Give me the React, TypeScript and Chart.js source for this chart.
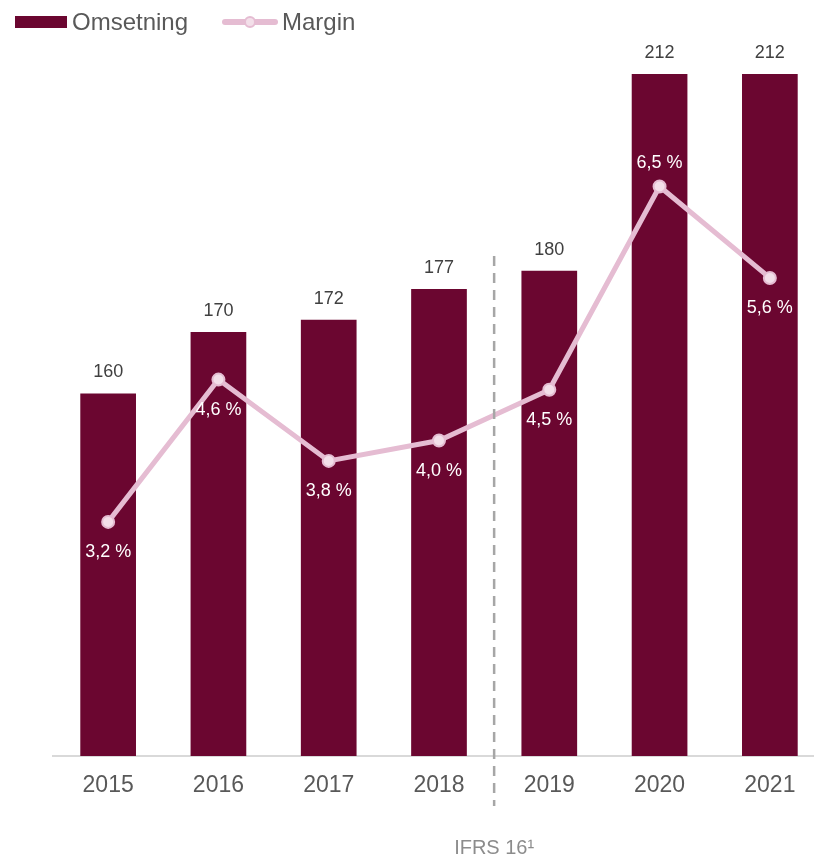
import React, { useEffect, useRef } from 'react';
import { Chart, registerables } from 'chart.js';

Chart.register(...registerables);

const years = ['2015', '2016', '2017', '2018', '2019', '2020', '2021'];
const revenue = [160, 170, 172, 177, 180, 212, 212];
const margin = [3.2, 4.6, 3.8, 4.0, 4.5, 6.5, 5.6];
const marginLabelAbove = [false, false, false, false, false, true, false];
const seriesNames = ['Omsetning', 'Margin'];
const dividerAfterIndex = 3;
const dividerLabel = 'IFRS 16¹';

const BAR_COLOR = '#6B0630';
const LINE_COLOR = '#E5BCD2';
const POINT_FILL = '#F3DFE9';
const FONT = '"Liberation Sans", Arial, sans-serif';
const CANVAS_W = 833;

const fmtPct = (v: number) => v.toFixed(1).replace('.', ',') + ' %';

const labelsPlugin = {
  id: 'valueLabels',
  afterDatasetsDraw(chart: any) {
    const ctx = chart.ctx;
    ctx.save();
    ctx.font = `18px ${FONT}`;
    ctx.textAlign = 'center';
    ctx.textBaseline = 'middle';
    const barMeta = chart.getDatasetMeta(0);
    ctx.fillStyle = '#404040';
    barMeta.data.forEach((el: any, i: number) => {
      ctx.fillText(String(revenue[i]), el.x, el.y - 21);
    });
    const lineMeta = chart.getDatasetMeta(1);
    ctx.fillStyle = '#ffffff';
    lineMeta.data.forEach((el: any, i: number) => {
      const dy = marginLabelAbove[i] ? -23 : 30;
      ctx.fillText(fmtPct(margin[i]), el.x, el.y + dy);
    });
    ctx.restore();
  },
};

const dividerPlugin = {
  id: 'divider',
  afterDraw(chart: any) {
    const ctx = chart.ctx;
    const xs = chart.scales.x;
    const x = (xs.getPixelForValue(dividerAfterIndex) + xs.getPixelForValue(dividerAfterIndex + 1)) / 2;
    const bottom = chart.chartArea.bottom;
    ctx.save();
    ctx.strokeStyle = '#A6A6A6';
    ctx.lineWidth = 2.5;
    ctx.setLineDash([10, 7]);
    ctx.beginPath();
    ctx.moveTo(x, bottom - 500);
    ctx.lineTo(x, bottom + 50);
    ctx.stroke();
    ctx.setLineDash([]);
    ctx.fillStyle = '#8C8C8C';
    ctx.font = `20px ${FONT}`;
    ctx.textAlign = 'center';
    ctx.textBaseline = 'middle';
    ctx.fillText(dividerLabel, x, bottom + 92);
    ctx.restore();
  },
};

export default function App() {
  const canvasRef = useRef<HTMLCanvasElement | null>(null);

  useEffect(() => {
    if (!canvasRef.current) return;
    const chart = new Chart(canvasRef.current, {
      type: 'bar',
      data: {
        labels: years,
        datasets: [
          {
            type: 'bar',
            label: seriesNames[0],
            data: revenue,
            backgroundColor: BAR_COLOR,
            categoryPercentage: 1,
            barPercentage: 0.505,
            yAxisID: 'y',
            order: 2,
          },
          {
            type: 'line',
            label: seriesNames[1],
            data: margin,
            borderColor: LINE_COLOR,
            borderWidth: 5,
            pointRadius: 6,
            pointBorderWidth: 2,
            pointBackgroundColor: POINT_FILL,
            pointBorderColor: LINE_COLOR,
            tension: 0,
            yAxisID: 'y1',
            order: 1,
          },
        ] as any,
      },
      options: {
        animation: false,
        responsive: false,
        maintainAspectRatio: false,
        layout: { padding: { top: 40, left: 53, right: 0, bottom: 42.4 } },
        plugins: {
          legend: { display: false },
          tooltip: { enabled: false },
        },
        scales: {
          x: {
            offset: true,
            grid: { display: false, drawTicks: false },
            border: { display: true, color: '#D9D9D9', width: 2 },
            ticks: {
              padding: 16,
              color: '#595959',
              font: { size: 23, family: FONT },
              maxRotation: 0,
            },
          },
          y: { display: false, min: 101, max: 217.54 },
          y1: { display: false, min: 0.8966, max: 7.941, position: 'right' },
        },
      },
      plugins: [labelsPlugin, dividerPlugin],
    });
    return () => chart.destroy();
  }, []);

  const textStyle: React.CSSProperties = {
    position: 'absolute',
    top: 10,
    fontFamily: FONT,
    fontSize: 24,
    lineHeight: '24px',
    color: '#595959',
    whiteSpace: 'nowrap',
  };

  return (
    <div style={{ position: 'absolute', left: 0, top: 0, width: 814, height: 858, overflow: 'hidden', background: '#fff' }}>
      <div style={{ position: 'absolute', left: 0, top: 0, width: CANVAS_W, height: 858 }}>
        <canvas ref={canvasRef} width={CANVAS_W} height={858} style={{ display: 'block', width: CANVAS_W, height: 858 }} />
      </div>
      <div style={{ position: 'absolute', left: 15, top: 16, width: 52, height: 12, background: BAR_COLOR }} />
      <span style={{ ...textStyle, left: 72 }}>{seriesNames[0]}</span>
      <div style={{ position: 'absolute', left: 222, top: 19, width: 56, height: 6, borderRadius: 3, background: LINE_COLOR }} />
      <div style={{ position: 'absolute', left: 244, top: 16, width: 8, height: 8, borderRadius: '50%', background: POINT_FILL, border: `2px solid ${LINE_COLOR}` }} />
      <span style={{ ...textStyle, left: 282 }}>{seriesNames[1]}</span>
    </div>
  );
}
